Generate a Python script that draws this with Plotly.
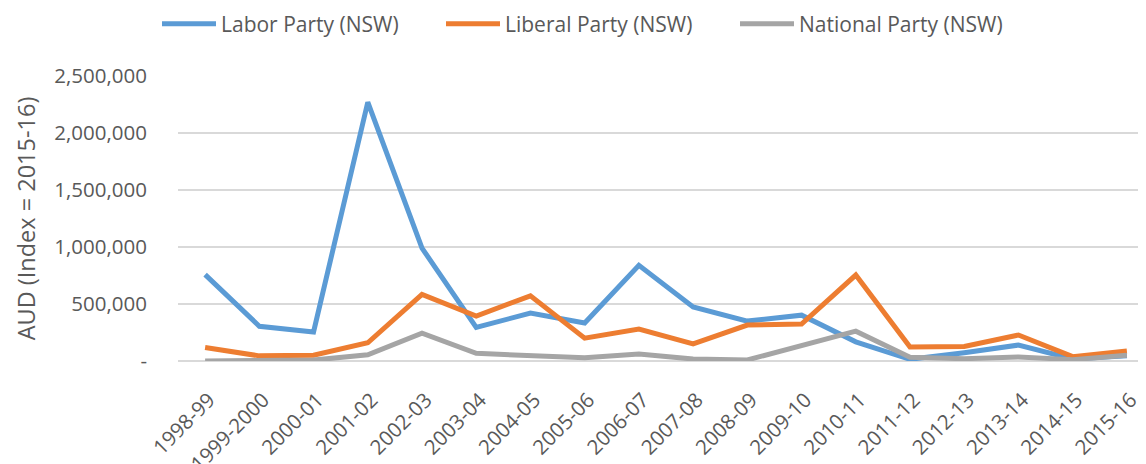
import plotly.graph_objects as go

years = ["1998-99", "1999-2000", "2000-01", "2001-02", "2002-03", "2003-04", "2004-05",
         "2005-06", "2006-07", "2007-08", "2008-09", "2009-10", "2010-11", "2011-12",
         "2012-13", "2013-14", "2014-15", "2015-16"]
labor = [758000, 305000, 255000, 2270000, 990000, 295000, 420000, 333000, 840000, 474000,
         350000, 402000, 168000, 15000, 73000, 140000, 18000, 45000]
liberal = [118000, 45000, 50000, 160000, 585000, 395000, 572000, 200000, 280000, 150000,
           315000, 324000, 754000, 123000, 128000, 228000, 38000, 88000]
national = [0, 5000, 8000, 55000, 245000, 67000, 44000, 29000, 62000, 17000,
            9000, 138000, 262000, 32000, 20000, 36000, 12000, 50000]
names = ["Labor Party (NSW)", "Liberal Party (NSW)", "National Party (NSW)"]
colors = ["#5B9BD5", "#ED7D31", "#A5A5A5"]
yticks = [0, 500000, 1000000, 1500000, 2000000, 2500000]
yticktext = ["-", "500,000", "1,000,000", "1,500,000", "2,000,000", "2,500,000"]

FONT = "Open Sans"
FIG_W, FIG_H = 1146, 464
legend_ids = ["legend", "legend2", "legend3"]
legend_x_px = [149, 433, 727]

fig = go.Figure()
for name, vals, col, lid in zip(names, [labor, liberal, national], colors, legend_ids):
    fig.add_trace(go.Scatter(x=list(range(len(years))), y=vals, mode="lines", name=name,
                             legend=lid, line=dict(color=col, width=5)))

L = 170
legend_common = dict(orientation="h", xanchor="left", xref="container",
                     y=1 - 16 / FIG_H, yref="container", yanchor="middle", itemwidth=54,
                     bgcolor="rgba(0,0,0,0)", font=dict(size=21, color="#595959"))
layout_legends = {lid: dict(x=px / FIG_W, **legend_common) for lid, px in zip(legend_ids, legend_x_px)}

fig.update_layout(
    width=FIG_W, height=FIG_H,
    margin=dict(l=L, r=0, t=68, b=111, autoexpand=False),
    paper_bgcolor="white", plot_bgcolor="white",
    font=dict(family=FONT, color="#595959", size=20),
    showlegend=True,
    **layout_legends,
)
fig.update_xaxes(
    tickmode="array", tickvals=list(range(len(years))), ticktext=years,
    range=[-0.5, 17.5], tickangle=-45, showgrid=False, zeroline=False,
    showline=False, ticks="", tickfont=dict(size=20.5, color="#595959"),
    ticklabelstandoff=22, ticklabelshift=4,
    automargin=False,
)
fig.update_yaxes(
    range=[0, 2500000], tickmode="array", tickvals=yticks, ticktext=yticktext,
    showgrid=True, gridcolor="#D9D9D9", gridwidth=1.5, zeroline=True,
    zerolinecolor="#D9D9D9", zerolinewidth=1.5, showline=False, ticks="",
    ticklabelstandoff=30, automargin=False,
    tickfont=dict(size=20.5, color="#595959"),
    title=dict(text="AUD (Index = 2015-16)", font=dict(size=23.5, color="#595959"), standoff=12),
)
fig.write_html("out.html")
